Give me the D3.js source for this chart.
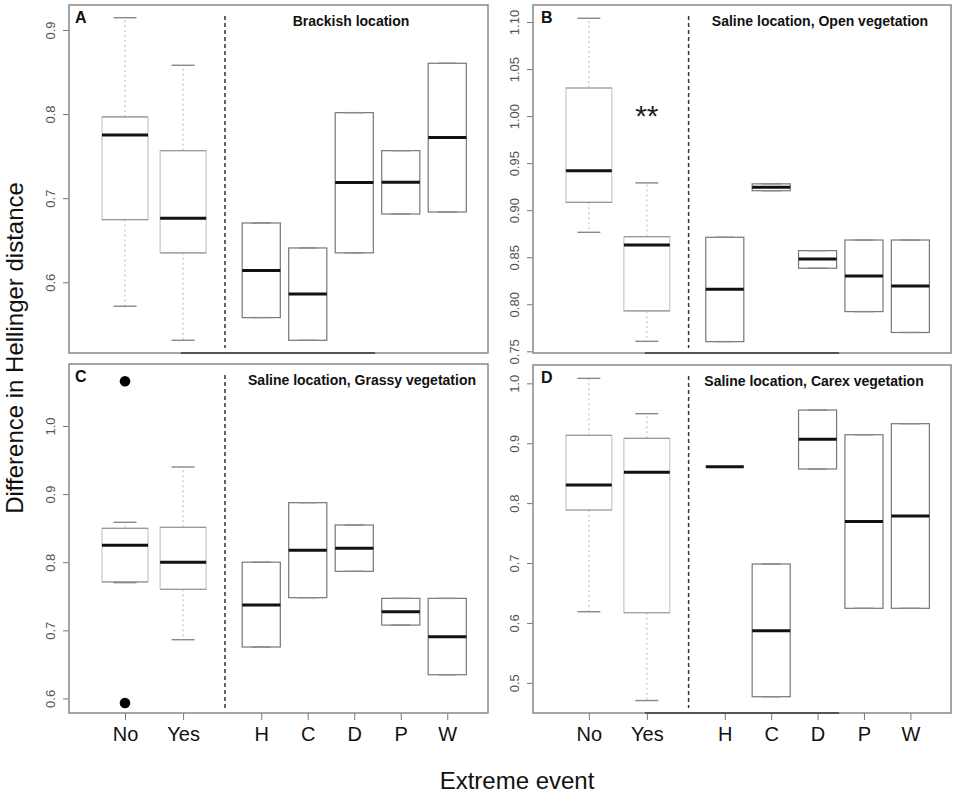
<!DOCTYPE html>
<html>
<head>
<meta charset="utf-8">
<script src="https://cdn.jsdelivr.net/npm/d3@7"></script>
<style>
  body { margin: 0; background: #fff; }
  svg { font-family: "Liberation Sans", Arial, sans-serif; }
</style>
</head>
<body>
<div id="vis"></div>
<script>
const FRAME_WIDTH = 957;
const FRAME_HEIGHT = 795;

// categories on the x axis
const CATEGORIES = ['No', 'Yes', 'H', 'C', 'D', 'P', 'W'];
const LETTERS = ['A', 'B', 'C', 'D'];
const TITLES = ['Brackish location', 'Saline location, Open vegetation',
                'Saline location, Grassy vegetation', 'Saline location, Carex vegetation'];

// five number summaries per category: [low whisker, Q1, median, Q3, high whisker]
const A_STATS = [
  [0.5715, 0.6745, 0.775, 0.7966, 0.9146],
  [0.531, 0.635, 0.676, 0.7565, 0.858],
  [0.558, 0.558, 0.614, 0.6705, 0.6705],
  [0.531, 0.531, 0.586, 0.6408, 0.6408],
  [0.635, 0.635, 0.7185, 0.8017, 0.8017],
  [0.6812, 0.6812, 0.719, 0.7565, 0.7565],
  [0.6836, 0.6836, 0.772, 0.8604, 0.8604]
];
const B_STATS = [
  [0.8765, 0.9084, 0.942, 1.0299, 1.104],
  [0.7606, 0.7929, 0.863, 0.8719, 0.929],
  [0.7603, 0.7603, 0.816, 0.8712, 0.8712],
  [0.9207, 0.9207, 0.9243, 0.928, 0.928],
  [0.8383, 0.8383, 0.848, 0.857, 0.857],
  [0.7922, 0.7922, 0.830, 0.8683, 0.8683],
  [0.770, 0.770, 0.8195, 0.8683, 0.8683]
];
const C_STATS = [
  [0.770, 0.771, 0.8248, 0.8498, 0.8586],
  [0.6862, 0.7602, 0.7999, 0.8512, 0.9398],
  [0.6755, 0.6755, 0.7372, 0.80, 0.80],
  [0.7479, 0.7479, 0.8174, 0.8874, 0.8874],
  [0.7866, 0.7866, 0.8204, 0.8546, 0.8546],
  [0.7077, 0.7077, 0.7273, 0.7469, 0.7469],
  [0.6348, 0.6348, 0.6907, 0.7469, 0.7469]
];
const D_STATS = [
  [0.6187, 0.7885, 0.8302, 0.9132, 1.0083],
  [0.4704, 0.617, 0.8514, 0.9082, 0.9493],
  [0.8608, 0.8608, 0.8608, 0.8608, 0.8608],
  [0.4768, 0.4768, 0.587, 0.6983, 0.6983],
  [0.857, 0.857, 0.9065, 0.9554, 0.9554],
  [0.6244, 0.6244, 0.7693, 0.9142, 0.9142],
  [0.6244, 0.6244, 0.7785, 0.9326, 0.9326]
];
// outliers of the "No" group in panel C
const C_OUTLIERS = [1.0656, 0.5932];

// y tick labels
const A_TICKS = ['0.6', '0.7', '0.8', '0.9'];
const B_TICKS = ['0.75', '0.80', '0.85', '0.90', '0.95', '1.00', '1.05', '1.10'];
const C_TICKS = ['0.6', '0.7', '0.8', '0.9', '1.0'];
const D_TICKS = ['0.5', '0.6', '0.7', '0.8', '0.9', '1.0'];

// layout: box positions in axis units, panel frames in pixels
const POS = [1, 2.25, 3.93, 4.93, 5.93, 6.93, 7.93];
const X_DOMAIN = [-0.204, 8.806];
const DIVIDER = 3.15;

const PANELS = [
  {x: 69, y: 5, w: 419, h: 348, yd: [0.5159, 0.9297], stats: A_STATS, ticks: A_TICKS, titleX: 282, xaxis: false, seg: true},
  {x: 533, y: 5, w: 418, h: 348, yd: [0.7482, 1.1181], stats: B_STATS, ticks: B_TICKS, titleX: 287, xaxis: false, seg: true},
  {x: 69, y: 364, w: 419, h: 349, yd: [0.5786, 1.0910], stats: C_STATS, ticks: C_TICKS, titleX: 293, xaxis: true, seg: false},
  {x: 533, y: 365, w: 418, h: 348, yd: [0.4496, 1.0306], stats: D_STATS, ticks: D_TICKS, titleX: 281, xaxis: true, seg: true}
];

const SVG = d3.select('#vis')
  .append('svg')
    .attr('width', FRAME_WIDTH)
    .attr('height', FRAME_HEIGHT);

PANELS.forEach((p, i) => {

  const X_SCALE = d3.scaleLinear().domain(X_DOMAIN).range([0, p.w]);
  const Y_SCALE = d3.scaleLinear().domain(p.yd).range([p.h, 0]);

  const G = SVG.append('g')
    .attr('transform', 'translate(' + p.x + ',' + p.y + ')');

  // y axis, labels turned like R's las=0
  const yAxis = G.append('g')
    .call(d3.axisLeft(Y_SCALE)
      .tickValues(p.ticks.map(Number))
      .tickFormat((d, j) => p.ticks[j])
      .tickSize(6));
  yAxis.select('.domain').remove();
  yAxis.selectAll('line').attr('stroke', '#777');
  yAxis.selectAll('text')
    .attr('font-size', 13)
    .attr('fill', '#555')
    .attr('transform', 'rotate(-90)')
    .attr('x', 0)
    .attr('y', -14)
    .attr('dy', 0)
    .attr('text-anchor', 'middle');

  // x axis on the bottom row
  if (p.xaxis) {
    const xAxis = G.append('g')
      .attr('transform', 'translate(0,' + p.h + ')')
      .call(d3.axisBottom(X_SCALE)
        .tickValues(POS)
        .tickFormat((d, j) => CATEGORIES[j])
        .tickSize(7)
        .tickPadding(6));
    xAxis.select('.domain').remove();
    xAxis.selectAll('line').attr('stroke', '#777');
    xAxis.selectAll('text')
      .attr('font-size', 20)
      .attr('fill', '#111')
      .attr('dy', '0.75em');
  }

  // divider between the two groups
  G.append('line')
    .attr('x1', X_SCALE(DIVIDER))
    .attr('x2', X_SCALE(DIVIDER))
    .attr('y1', 11)
    .attr('y2', p.h - 5)
    .attr('stroke', '#333')
    .attr('stroke-width', 1.5)
    .attr('stroke-dasharray', '4,3');

  // boxes
  const BOXES = G.selectAll('.box')
    .data(p.stats)
    .enter()
    .append('g')
      .attr('class', 'box');

  BOXES.each(function(d, j) {
    const b = d3.select(this);
    const left = j < 2;
    const half = left ? 0.495 : 0.41;
    const cx = X_SCALE(POS[j]);
    const x0 = X_SCALE(POS[j] - half);
    const x1 = X_SCALE(POS[j] + half);
    const capW = (x1 - x0) / 4;

    // whiskers
    [[d[3], d[4]], [d[1], d[0]]].forEach((w) => {
      if (Math.abs(w[0] - w[1]) > 1e-6) {
        b.append('line')
          .attr('x1', cx).attr('x2', cx)
          .attr('y1', Y_SCALE(w[0])).attr('y2', Y_SCALE(w[1]))
          .attr('stroke', '#c4c4c4')
          .attr('stroke-width', 1.2)
          .attr('stroke-dasharray', '2,3');
      }
    });

    // box
    if (d[3] > d[1]) {
      b.append('rect')
        .attr('x', x0)
        .attr('y', Y_SCALE(d[3]))
        .attr('width', x1 - x0)
        .attr('height', Y_SCALE(d[1]) - Y_SCALE(d[3]))
        .attr('fill', 'white')
        .attr('stroke', left ? '#c8c8c8' : '#777')
        .attr('stroke-width', 1.2);
      if (left) {
        [d[1], d[3]].forEach((v) => {
          b.append('line')
            .attr('x1', x0).attr('x2', x1)
            .attr('y1', Y_SCALE(v)).attr('y2', Y_SCALE(v))
            .attr('stroke', '#999')
            .attr('stroke-width', 1.2);
        });
      }
    }

    // caps
    [d[0], d[4]].forEach((v) => {
      b.append('line')
        .attr('x1', cx - capW).attr('x2', cx + capW)
        .attr('y1', Y_SCALE(v)).attr('y2', Y_SCALE(v))
        .attr('stroke', '#888')
        .attr('stroke-width', 1.4);
    });

    // median
    b.append('line')
      .attr('x1', x0).attr('x2', x1)
      .attr('y1', Y_SCALE(d[2])).attr('y2', Y_SCALE(d[2]))
      .attr('stroke', '#111')
      .attr('stroke-width', 3);
  });

  // outliers
  if (i === 2) {
    G.selectAll('.out')
      .data(C_OUTLIERS)
      .enter()
      .append('circle')
        .attr('cx', X_SCALE(POS[0]))
        .attr('cy', (d) => Y_SCALE(d))
        .attr('r', 5.3)
        .attr('fill', '#000');
  }

  // significance mark in panel B
  if (i === 1) {
    G.append('text')
      .attr('x', X_SCALE(POS[1]))
      .attr('y', Y_SCALE(1.0) + 10)
      .attr('text-anchor', 'middle')
      .attr('font-size', 30)
      .attr('fill', '#222')
      .text('**');
  }

  // frame
  G.append('rect')
    .attr('width', p.w)
    .attr('height', p.h)
    .attr('fill', 'none')
    .attr('stroke', '#888')
    .attr('stroke-width', 1.5);

  if (p.seg) {
    G.append('line')
      .attr('x1', 112).attr('x2', 306)
      .attr('y1', p.h).attr('y2', p.h)
      .attr('stroke', '#555')
      .attr('stroke-width', 1.8);
  }

  // letter and title
  G.append('text')
    .attr('x', i % 2 === 0 ? 6 : 8)
    .attr('y', 18)
    .attr('font-size', 16)
    .attr('font-weight', 'bold')
    .attr('fill', '#111')
    .text(LETTERS[i]);

  G.append('text')
    .attr('x', p.titleX)
    .attr('y', 21)
    .attr('text-anchor', 'middle')
    .attr('font-size', 14)
    .attr('font-weight', 'bold')
    .attr('fill', '#111')
    .text(TITLES[i]);
});

// shared axis titles
SVG.append('text')
  .attr('transform', 'translate(23,348) rotate(-90)')
  .attr('text-anchor', 'middle')
  .attr('font-size', 24)
  .attr('fill', '#111')
  .text('Difference in Hellinger distance');

SVG.append('text')
  .attr('x', 517)
  .attr('y', 789)
  .attr('text-anchor', 'middle')
  .attr('font-size', 24)
  .attr('fill', '#111')
  .text('Extreme event');
</script>
</body>
</html>
